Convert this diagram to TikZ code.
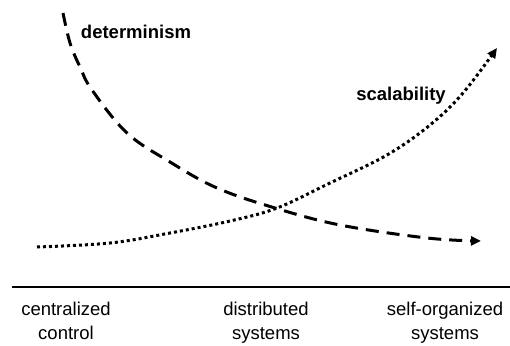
\documentclass[tikz,border=0pt]{standalone}
\usepackage{fontspec}
\setmainfont{Liberation Sans}
\usetikzlibrary{arrows.meta}
\begin{document}
\begin{tikzpicture}[x=1pt,y=-1pt,
  boldlbl/.style={font=\fontsize{18.5}{22}\selectfont\bfseries, inner sep=0pt},
  axislbl/.style={font=\fontsize{18.5}{24}\selectfont, align=center, inner sep=0pt},
  detline/.style={line width=3pt, dash pattern=on 13pt off 8pt, -{Triangle[length=10pt,width=9pt]}},
  scaline/.style={line width=3pt, dash pattern=on 3pt off 3pt, -{Triangle[length=10pt,width=9pt]}},
  axisline/.style={line width=2.5pt}]
\useasboundingbox (0,0) rectangle (510,345);
% determinism curve
\coordinate (d0) at (63,13);
\coordinate (d1) at (481,241);
\draw[detline] plot[smooth, tension=0.6] coordinates {(63,13) (70,43) (80,67) (92,90) (127,133) (170,162) (217,188) (275,208) (340,225) (427,238) (481,241)};
% scalability curve
\coordinate (s0) at (37,247);
\coordinate (s1) at (497,48);
\draw[scaline] plot[smooth, tension=0.6] coordinates {(37,247) (110,243) (170,233) (230,221) (277,208) (330,183) (387,155) (430,125) (463,93) (497,48)};
% labels
\node[boldlbl] (det) at (136,32) {determinism};
\node[boldlbl] (sca) at (401,96) {scalability};
% axis
\coordinate (a0) at (12,287);
\coordinate (a1) at (510,287);
\draw[axisline] (a0) -- (a1);
\node[axislbl, anchor=north] (cc) at (66,302) {centralized\\control};
\node[axislbl, anchor=north] (ds) at (266,302) {distributed\\systems};
\node[axislbl, anchor=north] (so) at (445,302) {self-organized\\systems};
\end{tikzpicture}
\end{document}
